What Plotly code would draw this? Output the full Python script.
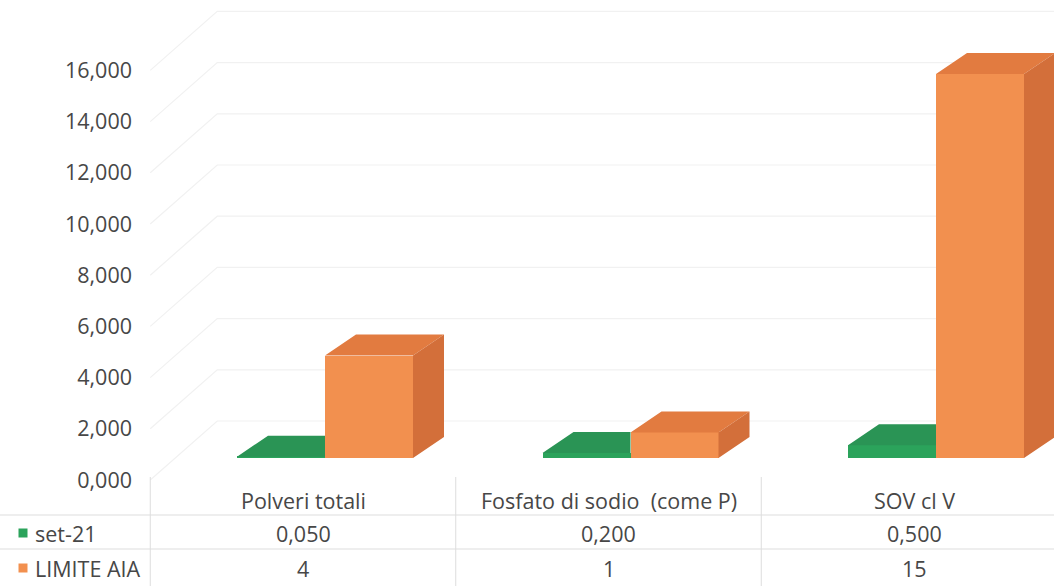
import plotly.graph_objects as go

# ---- data -------------------------------------------------------------
categories = ["Polveri totali", "Fosfato di sodio  (come P)", "SOV cl V"]
series_names = ["set-21", "LIMITE AIA"]
set21 = [0.050, 0.200, 0.500]
limite_aia = [4, 1, 15]
y_ticks = [0, 2, 4, 6, 8, 10, 12, 14, 16]

# ---- styling ----------------------------------------------------------
GREEN_FRONT, GREEN_TOP = "#2BA35B", "#2A9455"
ORANGE_FRONT, ORANGE_TOP, ORANGE_SIDE = "#F2904F", "#E27B40", "#D36F3A"
TEXT = "#474747"
GRID = "#f1f1f1"
TABLE_LINE = "#dddddd"
FONT = "Open Sans"
FS = 21.5

W, H = 1054, 586
# pixel geometry of the front plane
PX_PER_CAT = 305.5      # width of one category slot
CAT0_PX = 303           # centre of the first category
PX_PER_UNIT = 25.6      # pixels per value unit
ZERO_PX = 480           # value 0, measured from the top


def px_x(p):
    return (p - CAT0_PX) / PX_PER_CAT


def px_y(p):
    return (ZERO_PX - p) / PX_PER_UNIT


# oblique 3-D offsets, in axis units
BAR_W = 88 / PX_PER_CAT
BAR_SHIFT_X = 22 / PX_PER_CAT
BAR_LIFT = 22 / PX_PER_UNIT
DEPTH_X = 31 / PX_PER_CAT
DEPTH_Y = 21 / PX_PER_UNIT
WALL_X = 67 / PX_PER_CAT
WALL_Y = 59 / PX_PER_UNIT

n = len(categories)
fig = go.Figure()

# ---- back wall and side wall gridlines ---------------------------------
shapes = []
for v in y_ticks:
    path = (f"M {-0.5},{v} L {-0.5 + WALL_X},{v + WALL_Y} "
            f"L {n - 0.5 + WALL_X},{v + WALL_Y}")
    shapes.append(dict(type="path", path=path, xref="x", yref="y",
                       line=dict(color=GRID, width=1.2), layer="below"))

# ---- bars: front faces --------------------------------------------------
green_x = [i + BAR_SHIFT_X - BAR_W / 2 for i in range(n)]
orange_x = [i + BAR_SHIFT_X + BAR_W / 2 for i in range(n)]

fig.add_trace(go.Bar(x=green_x, y=set21, base=BAR_LIFT, width=BAR_W,
                     name=series_names[0], marker=dict(color=GREEN_FRONT, line=dict(width=0))))
fig.add_trace(go.Bar(x=orange_x, y=limite_aia, base=BAR_LIFT, width=BAR_W,
                     name=series_names[1], marker=dict(color=ORANGE_FRONT, line=dict(width=0))))


def poly_trace(xs, ys, color):
    return go.Scatter(x=xs, y=ys, mode="lines", fill="toself", fillcolor=color,
                      line=dict(width=0, color=color), hoverinfo="skip", showlegend=False)


# green tops (the part behind the orange front face is hidden)
gx, gy = [], []
for xc, v in zip(green_x, set21):
    x0, x1 = xc - BAR_W / 2, xc + BAR_W / 2
    t = BAR_LIFT + v
    gx += [x0, x1, x1, x0 + DEPTH_X, x0, None]
    gy += [t, t, t + DEPTH_Y, t + DEPTH_Y, t, None]
fig.add_trace(poly_trace(gx, gy, GREEN_TOP))

# orange tops and sides
ox, oy, sx, sy = [], [], [], []
for xc, v in zip(orange_x, limite_aia):
    x0, x1 = xc - BAR_W / 2, xc + BAR_W / 2
    b, t = BAR_LIFT, BAR_LIFT + v
    ox += [x0, x1, x1 + DEPTH_X, x0 + DEPTH_X, x0, None]
    oy += [t, t, t + DEPTH_Y, t + DEPTH_Y, t, None]
    sx += [x1, x1 + DEPTH_X, x1 + DEPTH_X, x1, x1, None]
    sy += [b, b + DEPTH_Y, t + DEPTH_Y, t, b, None]
fig.add_trace(poly_trace(ox, oy, ORANGE_TOP))
fig.add_trace(poly_trace(sx, sy, ORANGE_SIDE))

# ---- data table ---------------------------------------------------------
ROW_HEAD, ROW_1, ROW_2 = 500, 533, 568
LINE_1, LINE_2 = 515, 549
TABLE_TOP = 477

for px in (LINE_1, LINE_2):
    shapes.append(dict(type="line", xref="paper", yref="y", x0=0, x1=1,
                       y0=px_y(px), y1=px_y(px), line=dict(color=TABLE_LINE, width=1)))
for i in range(n + 1):
    shapes.append(dict(type="line", xref="x", yref="y", x0=i - 0.5, x1=i - 0.5,
                       y0=px_y(TABLE_TOP), y1=px_y(H), line=dict(color=TABLE_LINE, width=1)))

annotations = []
fnt = dict(family=FONT, size=FS, color=TEXT)
for i, cat in enumerate(categories):
    annotations.append(dict(x=i, y=px_y(ROW_HEAD), text=cat, showarrow=False,
                            xref="x", yref="y", font=fnt))
    annotations.append(dict(x=i, y=px_y(ROW_1), text=f"{set21[i]:.3f}".replace(".", ","),
                            showarrow=False, xref="x", yref="y", font=fnt))
    annotations.append(dict(x=i, y=px_y(ROW_2), text=f"{limite_aia[i]:g}",
                            showarrow=False, xref="x", yref="y", font=fnt))

for name, row, col in ((series_names[0], ROW_1, GREEN_FRONT),
                       (series_names[1], ROW_2, ORANGE_FRONT)):
    annotations.append(dict(x=px_x(33), y=px_y(row), text=name, showarrow=False,
                            xref="x", yref="y", xanchor="left", font=fnt))
    fig.add_trace(go.Scatter(x=[px_x(23)], y=[px_y(row)], mode="markers",
                             marker=dict(symbol="square", size=9, color=col),
                             hoverinfo="skip", showlegend=False))

fig.update_layout(
    width=W, height=H,
    margin=dict(l=0, r=0, t=0, b=0),
    paper_bgcolor="white", plot_bgcolor="white",
    barmode="overlay", bargap=0,
    showlegend=False,
    separators=",.",
    shapes=shapes, annotations=annotations,
    xaxis=dict(range=[px_x(0), px_x(W)], visible=False, domain=[0, 1]),
    yaxis=dict(range=[px_y(H), px_y(0)], tickvals=y_ticks, tickformat=".3f",
               showgrid=False, zeroline=False, showline=False, ticks="",
               anchor="free", position=132 / W, domain=[0, 1],
               tickfont=dict(family=FONT, size=FS, color=TEXT)),
)

fig.write_html("out.html")
